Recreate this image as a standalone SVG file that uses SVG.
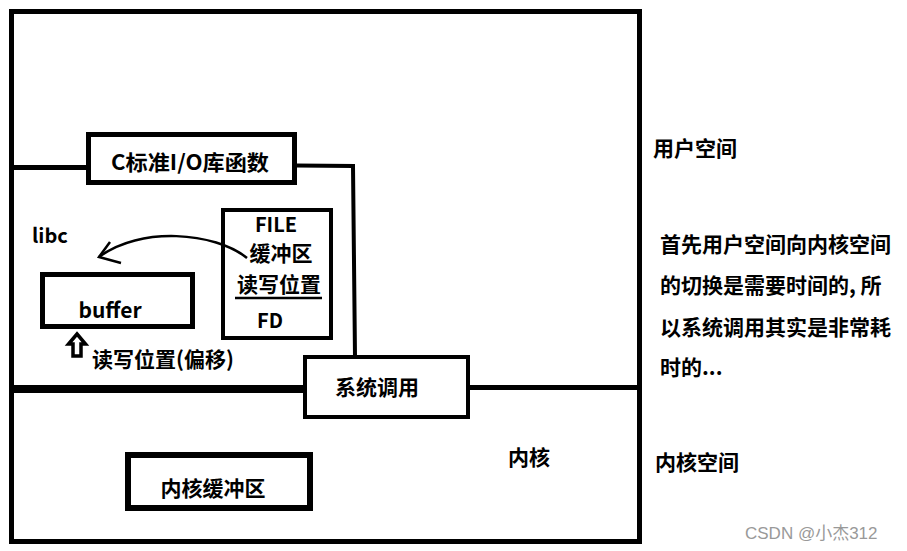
<svg xmlns="http://www.w3.org/2000/svg" width="907" height="551" viewBox="0 0 907 551">
<style>
.box{fill:none;stroke:#000;}
.t{font-family:"Microsoft YaHei","Noto Sans CJK SC","Noto Sans",sans-serif;font-weight:bold;fill:#000;}
.ln{fill:none;stroke:#000;}
</style>
<rect width="907" height="551" fill="#fff"/>
<g id="outer"><rect class="box" x="11.5" y="11.5" width="628" height="530" stroke-width="5"/></g>
<g id="connectors">
<polyline class="ln" points="12,167.5 88,167.5" stroke-width="5"/>
<polyline class="ln" points="296,165.5 353,166 355,357" stroke-width="4"/>
<line class="ln" x1="12" y1="389" x2="305" y2="389" stroke-width="8"/>
<line class="ln" x1="468" y1="387.5" x2="640" y2="387.5" stroke-width="5"/>
<path class="ln" d="M247,258 C215,232 140,226 99,257" stroke-width="2.5"/>
<path class="ln" d="M110,242 L99,257 L121,263" stroke-width="2.5"/>
<path d="M77,334 L85.5,344 L81,344 L81,356 L73,356 L73,344 L68.5,344 Z" fill="#fff" stroke="#000" stroke-width="3.5" stroke-linejoin="miter"/>
</g>
<g id="clib">
<rect class="box" x="88.5" y="134.5" width="206" height="48" stroke-width="5"/>
<text class="t" x="190" y="170" font-size="21" text-anchor="middle" textLength="158" lengthAdjust="spacingAndGlyphs">C标准I/O库函数</text>
</g>
<g id="file">
<rect class="box" x="223" y="210" width="108" height="128" stroke-width="4"/>
<text class="t" x="276" y="232" font-size="20" text-anchor="middle">FILE</text>
<text class="t" x="281" y="261" font-size="21" text-anchor="middle">缓冲区</text>
<text class="t" x="279" y="292" font-size="21" text-anchor="middle">读写位置</text>
<line x1="235" y1="298" x2="322" y2="298" stroke="#000" stroke-width="2.5"/>
<text class="t" x="270" y="328" font-size="20" text-anchor="middle">FD</text>
</g>
<g id="libc"><text class="t" x="32" y="243" font-size="20">libc</text></g>
<g id="buffer">
<rect class="box" x="42.5" y="274.5" width="150" height="52" stroke-width="5"/>
<text class="t" x="110" y="318" font-size="21" text-anchor="middle">buffer</text>
</g>
<g id="offset"><text class="t" x="92" y="367" font-size="21">读写位置(偏移)</text></g>
<g id="syscall">
<rect class="box" x="305" y="357" width="163" height="60" stroke-width="4"/>
<text class="t" x="377" y="395" font-size="21" text-anchor="middle">系统调用</text>
</g>
<g id="kbuf">
<rect class="box" x="128" y="455" width="182" height="53" stroke-width="6"/>
<text class="t" x="213" y="496" font-size="21" text-anchor="middle">内核缓冲区</text>
</g>
<g id="kernel"><text class="t" x="508" y="465" font-size="21">内核</text></g>
<g id="labels">
<text class="t" x="653" y="156" font-size="21">用户空间</text>
<text class="t" font-size="21">
<tspan x="660" y="252">首先用户空间向内核空间</tspan>
<tspan x="660" y="293">的切换是需要时间的, 所</tspan>
<tspan x="660" y="335">以系统调用其实是非常耗</tspan>
<tspan x="660" y="375">时的...</tspan>
</text>
<text class="t" x="655" y="470" font-size="21">内核空间</text>
<text x="745" y="539" font-size="17" fill="#999" font-family="'Liberation Sans','Noto Sans CJK SC',sans-serif">CSDN @小杰312</text>
</g>
</svg>
